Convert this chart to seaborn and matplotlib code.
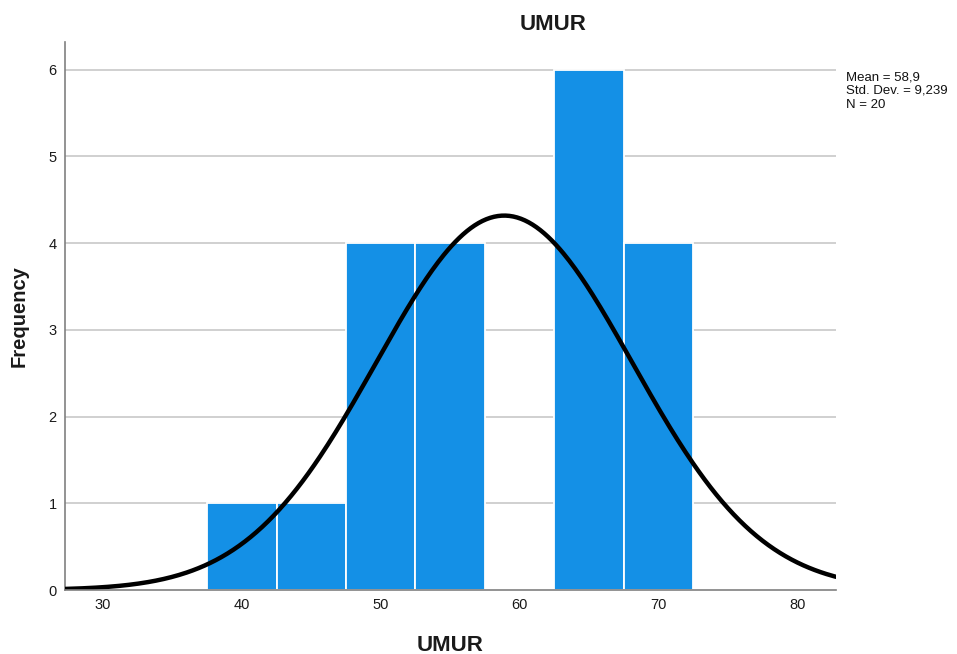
import numpy as np
import pandas as pd
import matplotlib
matplotlib.use("Agg")
import matplotlib.pyplot as plt
import seaborn as sns

# Data
bin_edges = [37.5, 42.5, 47.5, 52.5, 57.5, 62.5, 67.5, 72.5]
bin_centers = [40, 45, 50, 55, 60, 65, 70]
counts = [1, 1, 4, 4, 0, 6, 4]
mean_val = 58.9
std_val = 9.239
n_val = 20
x_ticks = [30, 40, 50, 60, 70, 80]
y_ticks = [0, 1, 2, 3, 4, 5, 6]

sns.set_theme(style="white")
plt.rcParams['font.family'] = ['Liberation Sans', 'DejaVu Sans']

fig = plt.figure(figsize=(9.57, 6.54), dpi=100)
ax = fig.add_axes([65/957, 1-590/654, (836-65)/957, (590-42)/654])

for y in y_ticks[1:]:
    ax.axhline(y, color="#C8C8C8", linewidth=1.2, zorder=0)

df = pd.DataFrame({"UMUR": bin_centers, "count": counts})
sns.histplot(data=df, x="UMUR", weights="count", bins=bin_edges, ax=ax,
             color="#1490E6", alpha=1.0, edgecolor="white", linewidth=1.3, zorder=2)

# Normal curve fitted to mean/sd, scaled to counts
bw = bin_edges[1] - bin_edges[0]
xs = np.linspace(27.26, 82.8, 400)
ys = n_val * bw / (std_val * np.sqrt(2*np.pi)) * np.exp(-0.5*((xs-mean_val)/std_val)**2)
sns.lineplot(x=xs, y=ys, ax=ax, color="black", linewidth=3.2, zorder=3)

ax.set_xlim(27.26, 82.8)
ax.set_ylim(0, 6.32)
ax.set_xticks(x_ticks)
ax.set_yticks(y_ticks)
ax.tick_params(axis='both', length=0, labelsize=10.5, colors="#1a1a1a", pad=6)

for s in ["top", "right"]:
    ax.spines[s].set_visible(False)
ax.spines["left"].set_color("#808080")
ax.spines["bottom"].set_color("#808080")
ax.spines["left"].set_linewidth(1.2)
ax.spines["bottom"].set_linewidth(1.2)
ax.spines["bottom"].set_zorder(4)

fig.text(553/957, 1-25/654, "UMUR", fontsize=16, fontweight="bold",
         ha="center", va="center", color="#1a1a1a")
ax.set_xlabel("UMUR", fontsize=16, fontweight="bold", labelpad=16, color="#1a1a1a")
ax.set_ylabel("Frequency", fontsize=14.5, fontweight="bold", labelpad=14, color="#1a1a1a")

fig.text(846/957, 1-71/654,
         "Mean = 58,9\nStd. Dev. = 9,239\nN = 20",
         fontsize=9.5, va="top", ha="left", linespacing=1.2, color="#111111")

fig.savefig("out.png", dpi=100, facecolor="white")
